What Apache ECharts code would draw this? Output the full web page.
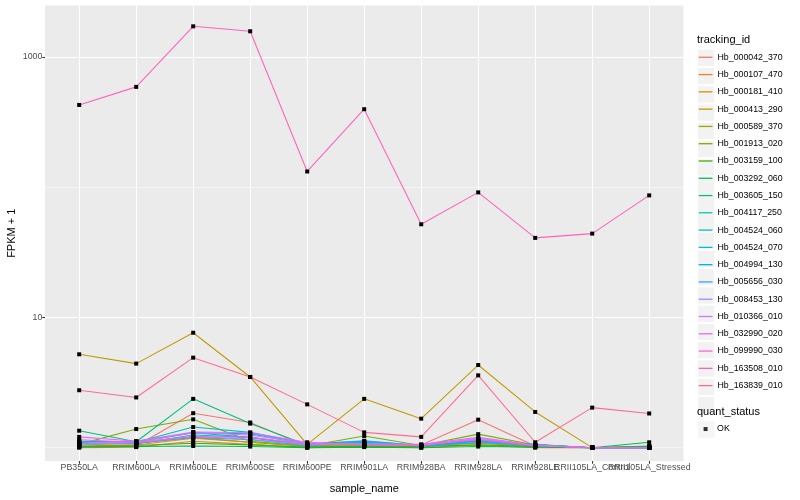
<!DOCTYPE html>
<html><head><meta charset="utf-8">
<script src="https://cdn.jsdelivr.net/npm/echarts@6/dist/echarts.min.js"></script>
<style>html,body{margin:0;padding:0;background:#fff}#c{width:800px;height:500px}</style>
</head><body><div id="c"></div>
<script>
const categories = ['PB350LA','RRIM600LA','RRIM600LE','RRIM600SE','RRIM600PE','RRIM901LA','RRIM928BA','RRIM928LA','RRIM928LE','RRII105LA_Control','RRII105LA_Stressed'];
const trackingIds = ['Hb_000042_370','Hb_000107_470','Hb_000181_410','Hb_000413_290','Hb_000589_370','Hb_001913_020','Hb_003159_100','Hb_003292_060','Hb_003605_150','Hb_004117_250','Hb_004524_060','Hb_004524_070','Hb_004994_130','Hb_005656_030','Hb_008453_130','Hb_010366_010','Hb_032990_020','Hb_099990_030','Hb_163508_010','Hb_163839_010'];
const seriesColors = ['#F8766D','#EA8331','#D89000','#C09B00','#A3A500','#7CAE00','#39B600','#00BB4E','#00BF7D','#00C1A3','#00BFC4','#00BAE0','#00B0F6','#35A2FF','#9590FF','#C77CFF','#E76BF3','#FA62DB','#FF62BC','#FF6C91'];
const yTickValues = [10, 1000];
const yMinorValues = [1, 100];
const quantStatus = ['OK'];

// FPKM + 1 per sample (order of categories)
const Hb_000042_370 = [1.02, 1.03, 1.84, 1.56, 1.02, 1.04, 1.05, 1.64, 1.03, 1.00, 1.00];
const Hb_000107_470 = [1.00, 1.01, 1.12, 1.06, 1.00, 1.02, 1.00, 1.05, 1.00, 1.00, 1.00];
const Hb_000181_410 = [1.03, 1.05, 1.18, 1.10, 1.02, 1.03, 1.02, 1.08, 1.02, 1.00, 1.02];
const Hb_000413_290 = [5.21, 4.42, 7.63, 3.49, 1.06, 2.37, 1.67, 4.31, 1.88, 1.00, 1.00];
const Hb_000589_370 = [1.05, 1.08, 1.20, 1.10, 1.03, 1.06, 1.02, 1.10, 1.03, 1.00, 1.01];
const Hb_001913_020 = [1.06, 1.39, 1.65, 1.12, 1.03, 1.23, 1.04, 1.27, 1.05, 1.00, 1.00];
const Hb_003159_100 = [1.02, 1.04, 1.08, 1.05, 1.01, 1.03, 1.02, 1.05, 1.02, 1.00, 1.03];
const Hb_003292_060 = [1.01, 1.02, 1.03, 1.02, 1.00, 1.01, 1.00, 1.02, 1.01, 1.00, 1.10];
const Hb_003605_150 = [1.35, 1.11, 2.37, 1.53, 1.05, 1.08, 1.04, 1.12, 1.06, 1.00, 1.02];
const Hb_004117_250 = [1.12, 1.10, 1.30, 1.20, 1.04, 1.10, 1.03, 1.15, 1.05, 1.00, 1.00];
const Hb_004524_060 = [1.11, 1.10, 1.44, 1.31, 1.07, 1.12, 1.04, 1.14, 1.05, 1.00, 1.00];
const Hb_004524_070 = [1.08, 1.07, 1.25, 1.20, 1.05, 1.10, 1.03, 1.10, 1.04, 1.00, 1.00];
const Hb_004994_130 = [1.10, 1.12, 1.30, 1.28, 1.06, 1.13, 1.04, 1.12, 1.05, 1.00, 1.00];
const Hb_005656_030 = [1.07, 1.08, 1.20, 1.15, 1.04, 1.09, 1.03, 1.10, 1.04, 1.00, 1.00];
const Hb_008453_130 = [1.06, 1.09, 1.22, 1.16, 1.05, 1.07, 1.05, 1.16, 1.04, 1.00, 1.00];
const Hb_010366_010 = [1.08, 1.10, 1.30, 1.25, 1.08, 1.06, 1.06, 1.20, 1.05, 1.00, 1.00];
const Hb_032990_020 = [1.21, 1.12, 1.32, 1.30, 1.10, 1.05, 1.04, 1.18, 1.04, 1.00, 1.00];
const Hb_099990_030 = [1.15, 1.10, 1.22, 1.20, 1.07, 1.06, 1.05, 1.15, 1.04, 1.00, 1.00];
const Hb_163508_010 = [428, 589, 1718, 1574, 132, 397, 51.9, 91.2, 40.8, 44.0, 86.5];
const Hb_163839_010 = [2.76, 2.43, 4.91, 3.49, 2.15, 1.31, 1.21, 3.59, 1.10, 2.03, 1.83];

const seriesValues = [Hb_000042_370, Hb_000107_470, Hb_000181_410, Hb_000413_290, Hb_000589_370, Hb_001913_020, Hb_003159_100, Hb_003292_060, Hb_003605_150, Hb_004117_250, Hb_004524_060, Hb_004524_070, Hb_004994_130, Hb_005656_030, Hb_008453_130, Hb_010366_010, Hb_032990_020, Hb_099990_030, Hb_163508_010, Hb_163839_010];

const FONT = 'Liberation Sans, Arial, Helvetica, sans-serif';
const chart = echarts.init(document.getElementById('c'), null, {renderer: 'canvas'});

const series = trackingIds.map((id, k) => ({
  name: id, type: 'line',
  data: categories.map((c, i) => [i, seriesValues[k][i]]),
  symbol: 'rect', symbolSize: 4, showSymbol: true,
  itemStyle: {color: '#000'},
  lineStyle: {color: seriesColors[k], width: 1.07},
  emphasis: {disabled: true}, silent: true
}));
series.push({name: quantStatus[0], type: 'scatter', data: [], symbol: 'rect', itemStyle: {color: '#000'}});

const catIdx = categories.map((c, i) => i);
const evenIdx = catIdx.filter(i => i % 2 === 0);
const oddIdx = catIdx.filter(i => i % 2 === 1);
const keyTop = 48.66;
const labelStyle = {margin: 2.4, fontFamily: FONT, fontSize: 8.8, color: '#4D4D4D', hideOverlap: false, showMinLabel: true, showMaxLabel: true, formatter: v => categories[Math.round(v)]};

const option = {
  animation: false,
  backgroundColor: '#fff',
  title: [
    {text: 'tracking_id', left: 697, top: 34, padding: 0, textStyle: {fontFamily: FONT, fontSize: 11, fontWeight: 'normal', color: '#000'}},
    {text: 'quant_status', left: 697, top: 406, padding: 0, textStyle: {fontFamily: FONT, fontSize: 11, fontWeight: 'normal', color: '#000'}}
  ],
  grid: {left: 45, right: 116.6, top: 5.5, bottom: 39, show: true, backgroundColor: '#EBEBEB', borderWidth: 0, outerBoundsMode: 'none'},
  legend: [
    {
      orient: 'vertical', left: 697, top: keyTop, padding: 0, itemGap: 0,
      itemWidth: 17.28, itemHeight: 17.28, icon: 'rect',
      data: trackingIds.map(id => ({name: id})),
      itemStyle: {color: '#F2F2F2', borderColor: '#fff', borderWidth: 1},
      formatter: () => '', textStyle: {fontSize: 1, lineHeight: 17.28},
      selectedMode: false, z: 3
    },
    {
      orient: 'vertical', left: 698.7, top: keyTop, padding: 0, itemGap: 0,
      itemWidth: 13.8, itemHeight: 1.3,
      data: trackingIds.map((id, k) => ({name: id, icon: 'rect', itemStyle: {color: seriesColors[k], borderWidth: 0}})),
      textStyle: {fontFamily: FONT, fontSize: 8.8, color: '#000', lineHeight: 17.28},
      selectedMode: false, z: 4
    },
    {
      orient: 'vertical', left: 697, top: 420.4, padding: 0, itemGap: 0,
      itemWidth: 17.28, itemHeight: 17.28, icon: 'rect',
      data: quantStatus.map(n => ({name: n})),
      itemStyle: {color: '#F2F2F2', borderColor: '#fff', borderWidth: 1},
      formatter: () => '', textStyle: {fontSize: 1, lineHeight: 17.28},
      selectedMode: false, z: 3
    },
    {
      orient: 'vertical', left: 703.6, top: 420.4, padding: 0, itemGap: 0,
      itemWidth: 4, itemHeight: 4,
      data: quantStatus.map(n => ({name: n, icon: 'rect', itemStyle: {color: '#000', borderWidth: 0}})),
      textStyle: {fontFamily: FONT, fontSize: 8.8, color: '#000', lineHeight: 17.28, padding: [0, 0, 0, 4.5]},
      selectedMode: false, z: 4
    }
  ],
  xAxis: [
    {
      type: 'value', min: -0.6, max: 10.6, position: 'bottom',
      name: 'sample_name', nameLocation: 'middle', nameGap: 22,
      nameTextStyle: {fontFamily: FONT, fontSize: 11, color: '#000'},
      axisLine: {show: false, onZero: false},
      axisTick: {show: true, length: 2.75, customValues: catIdx, lineStyle: {color: '#333333', width: 1.07}},
      axisLabel: Object.assign({customValues: evenIdx}, labelStyle),
      splitLine: {show: true, lineStyle: {color: '#fff', width: 1.07}}
    },
    {
      type: 'value', min: -0.6, max: 10.6, position: 'bottom', offset: 0,
      axisLine: {show: false, onZero: false},
      axisTick: {show: false, customValues: oddIdx},
      axisLabel: Object.assign({customValues: oddIdx}, labelStyle),
      splitLine: {show: false}
    }
  ],
  yAxis: [
    {
      type: 'log', logBase: 10, min: 0.79, max: 2483,
      name: 'FPKM + 1', nameLocation: 'middle', nameGap: 28, nameMoveOverlap: false,
      nameTextStyle: {fontFamily: FONT, fontSize: 11, color: '#000'},
      axisLine: {show: false, onZero: false},
      axisTick: {show: true, length: 2.75, customValues: yTickValues, lineStyle: {color: '#333333', width: 1.07}},
      axisLabel: {customValues: yTickValues, margin: 2.6, fontFamily: FONT, fontSize: 8.8, color: '#4D4D4D', formatter: v => String(Math.round(v)), showMinLabel: true, showMaxLabel: true},
      splitLine: {show: true, lineStyle: {color: '#fff', width: 1.07}}
    },
    {
      type: 'log', logBase: 10, min: 0.79, max: 2483,
      axisLine: {show: false, onZero: false},
      axisTick: {show: false, customValues: yMinorValues},
      axisLabel: {show: false, customValues: yMinorValues},
      splitLine: {show: true, lineStyle: {color: '#fff', width: 0.53}}
    }
  ],
  series: series
};
chart.setOption(option);
</script></body></html>
